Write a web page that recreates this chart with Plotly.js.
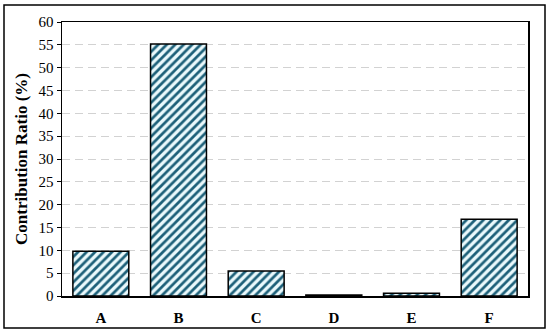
<!DOCTYPE html>
<html>
<head>
<meta charset="utf-8">
<script src="https://cdn.plot.ly/plotly-3.0.1.min.js"></script>
<style>
  body { margin: 0; background: #fff; }
  #plot { width: 550px; height: 335px; }
</style>
</head>
<body>
<div id="plot"></div>
<script>
// categories and their contribution ratio (%)
let categories = ["A", "B", "C", "D", "E", "F"];
let ratios = [9.8, 55.2, 5.5, 0.2, 0.6, 16.8];
let yTicks = [0, 5, 10, 15, 20, 25, 30, 35, 40, 45, 50, 55, 60];

let trace = {
    x: categories,
    y: ratios,
    type: "bar",
    marker: {
        color: "#eaf9fc",
        line: { color: "#000", width: 1.5 },
        pattern: {
            shape: "/",
            fgcolor: "#1d6079",
            bgcolor: "#eaf9fc",
            size: 6,
            solidity: 0.45
        }
    },
    hoverinfo: "none"
};

let layout = {
    width: 550,
    height: 335,
    margin: { l: 62, r: 22, t: 22, b: 39 },
    paper_bgcolor: "#fff",
    plot_bgcolor: "#fff",
    font: { family: "Liberation Serif, DejaVu Serif, serif", color: "#000", size: 15 },
    bargap: 0.28,
    showlegend: false,
    xaxis: {
        showline: true,
        linecolor: "#000",
        linewidth: 1.5,
        mirror: true,
        ticks: "",
        tickfont: { size: 15, weight: "bold" },
        ticklabelstandoff: 7
    },
    yaxis: {
        range: [0, 60],
        tickvals: yTicks,
        showline: true,
        linecolor: "#000",
        linewidth: 1.5,
        mirror: true,
        ticks: "outside",
        ticklen: 4,
        tickcolor: "#000",
        showgrid: true,
        gridcolor: "#d2d2d2",
        griddash: "8px,5px",
        gridwidth: 1,
        zeroline: false,
        tickfont: { size: 15 },
        title: { text: "<b>Contribution Ratio (%)</b>", font: { size: 17 }, standoff: 6 }
    },
    shapes: [{
        type: "rect",
        xref: "paper", yref: "paper",
        x0: (4 - 62) / 466, x1: (545 - 62) / 466,
        y0: -(328 - 296) / 274, y1: 1 + (22 - 5) / 274,
        line: { color: "#000", width: 1.5 },
        layer: "below"
    }]
};

Plotly.newPlot("plot", [trace], layout, { staticPlot: true });
</script>
</body>
</html>
